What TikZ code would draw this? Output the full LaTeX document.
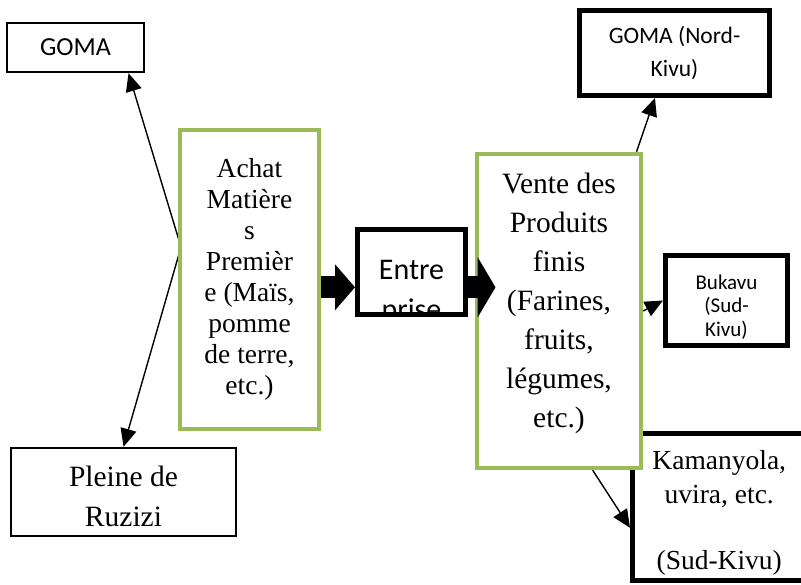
\documentclass[tikz,border=0pt]{standalone}
\usepackage{fontspec}
\setmainfont{Liberation Serif}
\newfontfamily\calibri{Carlito}
\usetikzlibrary{arrows.meta,calc}
\definecolor{vertolive}{HTML}{9BBB59}

\tikzset{
  boite/.style={draw, line width=2.5pt, inner sep=0pt, align=center},
  boiteforte/.style={draw, line width=5pt, inner sep=0pt, align=center},
  boiteverte/.style={draw=vertolive, line width=4.5pt, fill=white, inner sep=0pt, align=center},
  fleche/.style={line width=1.4pt, -{Triangle[length=18pt,width=16pt]}},
  bloc/.style n args={2}{line width=22pt, -{Triangle[length=#1,width=#2]}}
}

\begin{document}
\begin{tikzpicture}[x=1pt, y=-1pt]
  \clip (0,0) rectangle (801,585);

  % boites de gauche
  \node[boite, minimum width=137, minimum height=49, font=\calibri\fontsize{26}{30}\selectfont] (goma) at (75.5,47.5) {GOMA};
  \node[boite, minimum width=225, minimum height=88, font=\fontsize{29.5}{40}\selectfont] (pleine) at (123.5,492) {\rule{0pt}{30pt}Pleine de\\Ruzizi};

  \coordinate (coude) at (181,247);
  \draw[line width=1.4pt, {Triangle[length=18pt,width=16pt]}-{Triangle[length=18pt,width=16pt]}]
    ($(goma.south west)!0.88!(goma.south east)$) -- (coude) -- (pleine.north);

  \node[boiteforte, minimum width=173.5, minimum height=147, font=\fontsize{27.5}{34}\selectfont] (kaman) at (719.25,506.5) {\rule{0pt}{32pt}Kamanyola,\\uvira, etc.\\[32pt](Sud-Kivu)};

  % boites vertes
  \node[boiteverte, minimum width=139, minimum height=299, font=\fontsize{27.5}{31}\selectfont] (achat) at (249.5,279.5)
    {Achat\\Matière\\s\\Premièr\\e (Maïs,\\pomme\\de terre,\\etc.)\rule[-7pt]{0pt}{0pt}};
  \node[boiteverte, minimum width=164, minimum height=314, font=\fontsize{29.5}{39}\selectfont] (vente) at (559,311)
    {Vente des\\Produits\\finis\\(Farines,\\fruits,\\légumes,\\etc.)\rule[-22pt]{0pt}{0pt}};

  % boites noires
  \node[boiteforte, fill=white, minimum width=108, minimum height=85] (ent) at (411.5,272) {};
  \begin{scope}
    \clip ($(ent.south west)+(2.5,-2.5)$) rectangle ($(ent.north east)+(-2.5,2.5)$);
    \node[font=\calibri\fontsize{30}{40}\selectfont, align=center] (entmot) at ($(ent.center)+(0,20)$) {Entre\\prise};
  \end{scope}
  \node[boiteforte, minimum width=190, minimum height=85, font=\calibri\fontsize{23.5}{33}\selectfont] (gomank) at (674.5,53) {GOMA (Nord-\\Kivu)};
  \node[boiteforte, minimum width=122, minimum height=90, font=\calibri\fontsize{21}{23.5}\selectfont] (bukavu) at (726.5,300.5) {\rule{0pt}{27pt}Bukavu\\(Sud-\\Kivu)};

  % fleches pleines
  \coordinate (entree) at ($(ent.north west)!0.67!(ent.south west)$);
  \coordinate (sortie) at ($(ent.north east)!0.67!(ent.south east)$);
  \draw[bloc={20pt}{45pt}] (achat.east |- entree) -- (entree);
  \draw[bloc={18pt}{60pt}] (sortie) -- ++(27.5,0) coordinate (pointe);

  % fleches vers les marches
  \draw[fleche] ($(vente.north west)!0.96!(vente.north east)$) -- ($(gomank.south west)!0.40!(gomank.south east)$);
  \draw[fleche] (vente.east) -- (bukavu.west);
  \draw[fleche] ($(vente.south west)!0.70!(vente.south east)$) -- ($(kaman.north west)!0.64!(kaman.south west)$);
\end{tikzpicture}
\end{document}
